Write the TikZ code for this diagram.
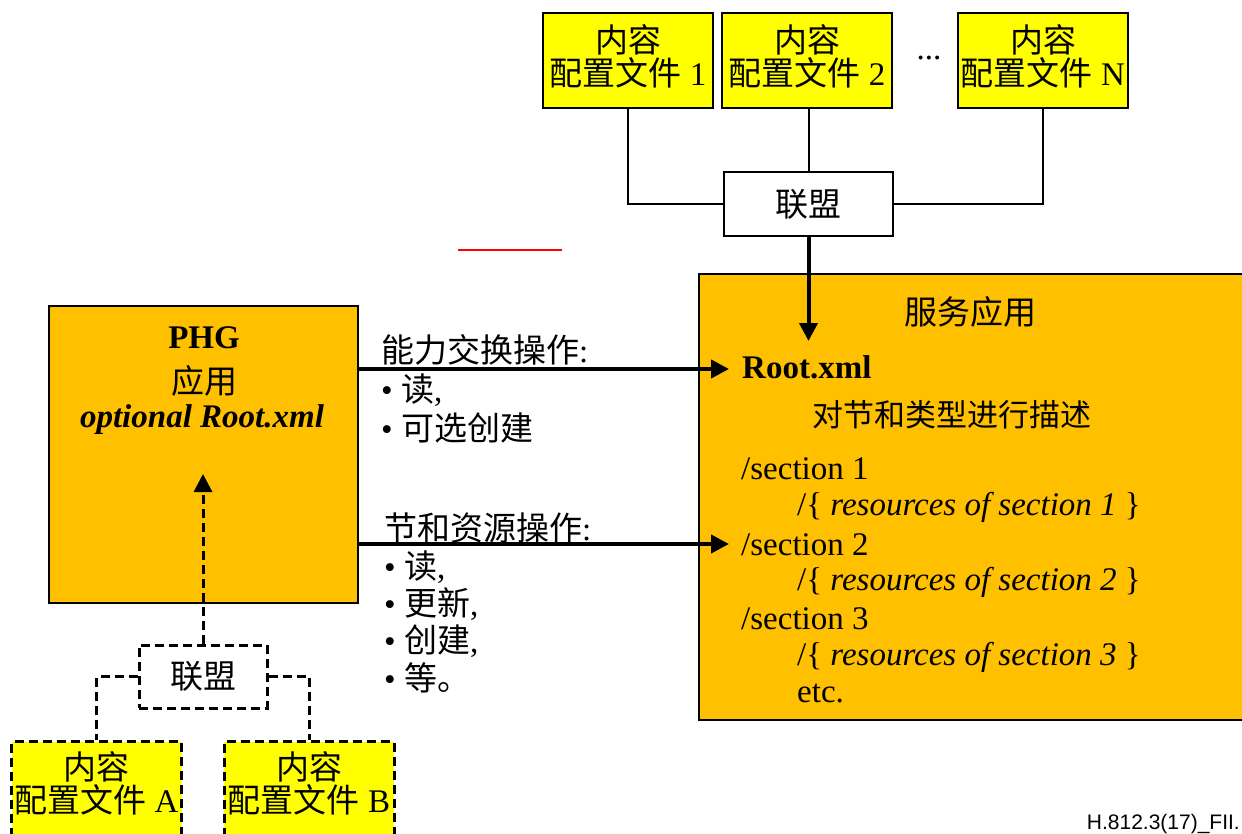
\documentclass[tikz,border=0pt]{standalone}
\usepackage{fontspec}
\setmainfont{Liberation Serif}
\newfontfamily\zhfont{Noto Sans CJK SC}
\newfontfamily\sffn{Liberation Sans}
\newcommand\zh[1]{{\zhfont #1}}
\usetikzlibrary{arrows.meta}
\definecolor{orng}{HTML}{FFC000}
\definecolor{ylw}{HTML}{FFFF00}
\definecolor{redl}{HTML}{FF0000}
\begin{document}
\begin{tikzpicture}[x=1pt,y=-1pt,
  big/.style={font=\fontsize{33}{33}\selectfont},
  txt/.style={big, inner sep=0pt, anchor=west},
  lbl/.style={big, inner sep=0pt, align=center},
  ybox/.style={draw, line width=2pt, fill=ylw, minimum width=170pt, minimum height=95pt, inner sep=0pt},
  dbox/.style={draw, line width=3pt, dash pattern=on 9pt off 5pt, fill=ylw, minimum width=170pt, minimum height=120pt, inner sep=0pt, anchor=north},
  wbox/.style={draw, line width=2pt, fill=white, minimum width=169pt, minimum height=64pt, inner sep=0pt, big},
  obox/.style={draw, line width=2pt, fill=orng, inner sep=0pt},
  conn/.style={line width=2pt},
  arr/.style={line width=4pt, -{Triangle[length=18pt,width=18pt]}},
  darr/.style={line width=3pt, dash pattern=on 9pt off 5pt, -{Triangle[length=18pt,width=18pt]}},
  dconn/.style={line width=3pt, dash pattern=on 9pt off 5pt}
]
\useasboundingbox (0,0) rectangle (1242,834);
\fill[white] (0,0) rectangle (1242,834);
\begin{scope}
\clip (0,0) rectangle (1242,834);

% top content profiles
\node[ybox] (b1) at (628,60.5) {};
\node[ybox] (b2) at (807,60.5) {};
\node[ybox] (bn) at (1043,60.5) {};
\node[lbl] (b1t) at (628,56) {\zh{内容}\\\zh{配置文件} 1};
\node[lbl] (b2t) at (807,56) {\zh{内容}\\\zh{配置文件} 2};
\node[lbl] (bnt) at (1043,56) {\zh{内容}\\\zh{配置文件} N};
\node[big, inner sep=0pt] (dots) at (929,58) {...};
\node[wbox] (fed) at (808.5,204) {\zh{联盟}};
\draw[conn] (b1.south) |- (fed.west);
\draw[conn] (b2.south -| fed.north) -- (fed.north);
\draw[conn] (bn.south) |- (fed.east);

% red line
\coordinate (rl1) at (458,250);
\coordinate (rl2) at (562,250);
\draw[redl, line width=1.5pt] (rl1) -- (rl2);

% service application
\node[obox, minimum width=544pt, minimum height=445pt, anchor=north west] (svc) at (697.5,273.5) {};
\node[big, inner sep=0pt] (svct) at (970,312) {\zh{服务应用}};
\node[txt] (root) at (742,367) {\textbf{Root.xml}};
\node[inner sep=0pt, font=\fontsize{31}{31}\selectfont] (desc) at (952,415) {\zh{对节和类型进行描述}};
\node[txt] (s1) at (741,469) {/section 1};
\node[txt] (r1) at (797,507) {/\{ \textit{resources of section 1} \}};
\node[txt] (s2) at (741,545) {/section 2};
\node[txt] (r2) at (797,582) {/\{ \textit{resources of section 2} \}};
\node[txt] (s3) at (741,619) {/section 3};
\node[txt] (r3) at (797,657) {/\{ \textit{resources of section 3} \}};
\node[txt] (etc) at (797,693) {etc.};

\coordinate (dtip) at (808.5,341);
\draw[arr] (fed.south) -- (dtip);

% PHG application
\node[obox, minimum width=309pt, minimum height=297pt, anchor=north west] (phg) at (48,305) {};
\node[big, inner sep=0pt] (phg1) at (204,338) {\textbf{PHG}};
\node[big, inner sep=0pt] (phg2) at (204,381) {\zh{应用}};
\node[big, inner sep=0pt] (phg3) at (202,420) {\textbf{\textit{optional Root.xml}}};

% operations
\coordinate (a1) at (729,369);
\coordinate (a2) at (729,544);
\draw[arr] (phg.east |- a1) -- (a1);
\draw[arr] (phg.east |- a2) -- (a2);
\node[txt] (l1) at (381,350) {\zh{能力交换操作}:};
\node[txt] (l1a) at (381,390) {• \zh{读},};
\node[txt] (l1b) at (381,428) {• \zh{可选创建}};
\node[txt] (l2) at (384,528) {\zh{节和资源操作}:};
\node[txt] (l2a) at (384,567) {• \zh{读},};
\node[txt] (l2b) at (384,604) {• \zh{更新},};
\node[txt] (l2c) at (384,641) {• \zh{创建},};
\node[txt] (l2d) at (384,678) {• \zh{等。}};

% lower federation
\node[wbox, fill=none, minimum width=128pt, minimum height=63pt, dash pattern=on 9pt off 5pt, line width=3pt] (fed2) at (203,676.5) {\zh{联盟}};
\coordinate (ptip) at (203,474);
\draw[darr] (fed2.north) -- (ptip);
\node[dbox] (ba) at (96.5,740) {};
\node[dbox] (bb) at (309,740) {};
\node[lbl] (bat) at (96.5,783) {\zh{内容}\\\zh{配置文件} A};
\node[lbl] (bbt) at (309,783) {\zh{内容}\\\zh{配置文件} B};
\draw[dconn] (fed2.west) -| (ba.north);
\draw[dconn] (fed2.east) -| (bb.north);
\end{scope}

\node[font=\sffn\fontsize{21}{23}\selectfont, inner sep=0pt, anchor=base east] (foot) at (1240,829) {H.812.3(17)\_FII.};
\end{tikzpicture}
\end{document}
